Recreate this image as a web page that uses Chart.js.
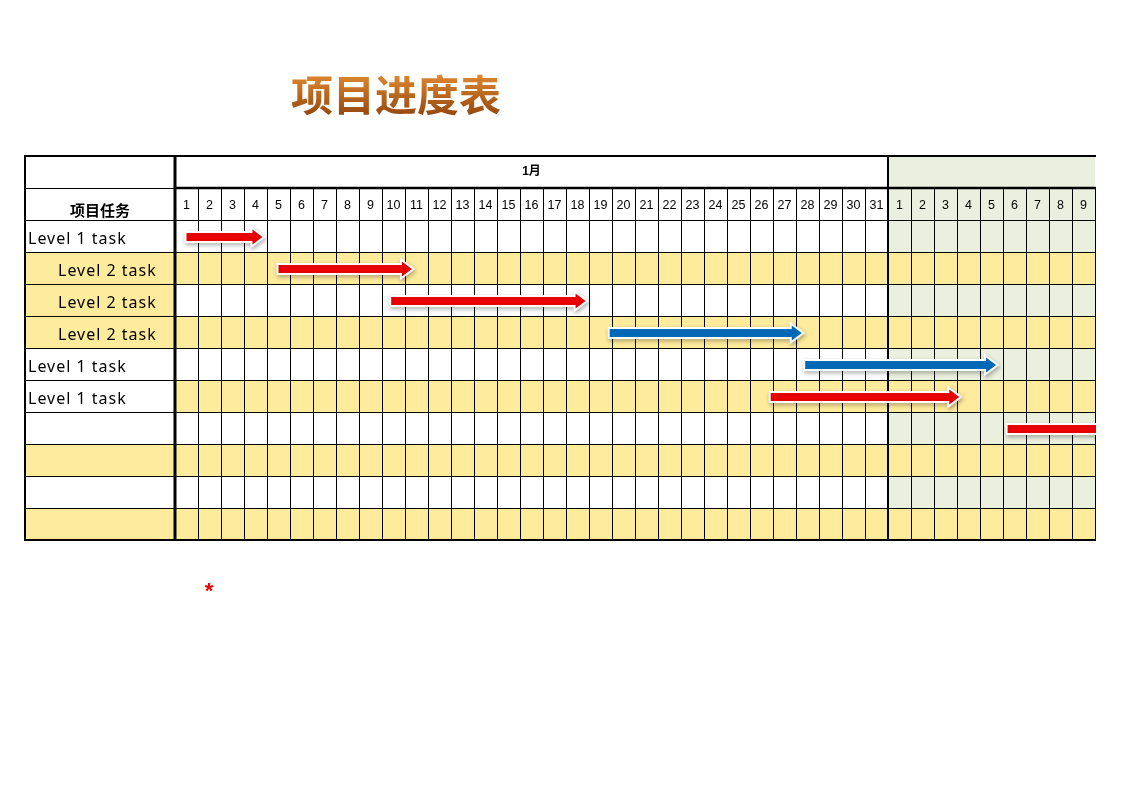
<!DOCTYPE html>
<html>
<head>
<meta charset="utf-8">
<script src="https://cdn.jsdelivr.net/npm/chart.js@4.4.0/dist/chart.umd.min.js"></script>
<style>
  html, body { margin: 0; padding: 0; background: #fff; }
</style>
</head>
<body>
<canvas id="gantt" width="1122" height="793"></canvas>
<script>
const sheetTitle = "项目进度表";
const taskHeader = "项目任务";
const monthLabels = ["1月", ""];
const monthDays = [31, 9];
const dayLabels = [
  "1", "2", "3", "4", "5", "6", "7", "8", "9", "10",
  "11", "12", "13", "14", "15", "16", "17", "18", "19", "20",
  "21", "22", "23", "24", "25", "26", "27", "28", "29", "30", "31",
  "1", "2", "3", "4", "5", "6", "7", "8", "9",
];
const taskLabels = [
  "Level 1 task", "Level 2 task", "Level 2 task", "Level 2 task",
  "Level 1 task", "Level 1 task", "", "", "", "",
];
const taskLevels = [1, 2, 2, 2, 1, 1, 0, 0, 0, 0];
// start / end of each arrow, in day columns from 1 Jan
const redTasks = [
  [0.5, 3.8], [4.5, 10.3], [9.4, 17.85], null, null,
  [25.9, 34.1], [36.2, 41], null, null, null,
];
const blueTasks = [
  null, null, null, [18.9, 27.25], [27.4, 35.7],
  null, null, null, null, null,
];

const YELLOW = "#FFEB9C";
const GREEN = "#EBF0DE";
const LINE = "#000";

function line(ctx, x1, y1, x2, y2, w) {
  ctx.save();
  ctx.strokeStyle = LINE;
  ctx.lineWidth = w;
  ctx.beginPath();
  ctx.moveTo(x1, y1);
  ctx.lineTo(x2, y2);
  ctx.stroke();
  ctx.restore();
}

const sheetPlugin = {
  id: "sheet",
  beforeDraw(chart) {
    const { ctx, chartArea: ca, scales } = chart;
    const x = scales.x, y = scales.y;
    const rowH = y.getPixelForValue(1) - y.getPixelForValue(0);
    const febL = x.getPixelForValue(monthDays[0]);
    const left = 25;
    ctx.save();
    ctx.fillStyle = "#fff";
    ctx.fillRect(0, 0, chart.width, chart.height);
    taskLabels.forEach((t, i) => {
      const top = y.getPixelForValue(i) - rowH / 2;
      if (i % 2 === 1) {
        ctx.fillStyle = YELLOW;
        ctx.fillRect(ca.left, top, ca.right - ca.left, rowH);
      } else {
        ctx.fillStyle = GREEN;
        ctx.fillRect(febL, top, ca.right - febL, rowH);
      }
      const lvl = taskLevels[i];
      if (lvl === 2 || (lvl === 0 && i % 2 === 1)) {
        ctx.fillStyle = YELLOW;
        ctx.fillRect(left, top, ca.left - left, rowH);
      }
    });
    ctx.fillStyle = GREEN;
    ctx.fillRect(febL, ca.top - 2 * rowH, ca.right - febL, 2 * rowH);
    ctx.restore();
  },
  beforeDatasetsDraw(chart) {
    const { ctx, chartArea: ca, scales } = chart;
    const x = scales.x, y = scales.y;
    const rowH = y.getPixelForValue(1) - y.getPixelForValue(0);
    const top = ca.top - 2 * rowH;
    const mid = ca.top - rowH;
    const left = 25;
    const febL = x.getPixelForValue(monthDays[0]);

    // day header column lines
    for (let i = 0; i <= monthDays[0] + monthDays[1]; i++) {
      const px = Math.round(x.getPixelForValue(i)) + 0.5;
      line(ctx, px, mid, px, ca.top, 1);
    }
    // label column row lines
    for (let i = 0; i <= taskLabels.length; i++) {
      const py = Math.round(ca.top + i * rowH) + 0.5;
      line(ctx, left, py, ca.left, py, 1);
    }
    line(ctx, left, mid + 0.5, ca.left, mid + 0.5, 1);
    line(ctx, ca.left, mid, ca.right + 1, mid, 2.5);
    line(ctx, left - 1, top, ca.right + 1, top, 2);
    line(ctx, left - 1, ca.bottom, ca.right + 1, ca.bottom, 2);
    line(ctx, left, top, left, ca.bottom, 2);
    line(ctx, ca.left, top, ca.left, ca.bottom + 1, 3);
    line(ctx, febL, top, febL, ca.bottom, 2);

    ctx.save();
    ctx.fillStyle = "#000";
    ctx.textAlign = "center";
    ctx.textBaseline = "middle";
    ctx.font = "bold 12px 'Liberation Sans', 'Noto Sans CJK SC'";
    ctx.fillText(monthLabels[0], (ca.left + febL) / 2, top + rowH / 2);
    ctx.font = "bold 15px 'Noto Sans CJK SC'";
    ctx.fillText(taskHeader, (left + ca.left) / 2, ca.top - 10);

    ctx.textAlign = "left";
    ctx.font = "16px 'Noto Sans'";
    ctx.letterSpacing = "1px";
    taskLabels.forEach((t, i) => {
      const indent = taskLevels[i] === 2 ? 33 : 3;
      ctx.fillText(t, left + indent, y.getPixelForValue(i) + 3);
    });
    ctx.letterSpacing = "0px";

    // title
    const g = ctx.createLinearGradient(0, 76, 0, 114);
    g.addColorStop(0, "#DC8530");
    g.addColorStop(1, "#984A0E");
    ctx.fillStyle = g;
    ctx.textAlign = "center";
    ctx.font = "bold 42px 'Noto Sans CJK SC'";
    ctx.fillText(sheetTitle, 396, 95);

    ctx.fillStyle = "#F00000";
    ctx.font = "bold 22px 'Liberation Sans'";
    ctx.fillText("*", 209, 592);
    ctx.restore();
  },
  beforeDatasetDraw() {
    return false;
  },
  afterDatasetsDraw(chart) {
    const { ctx, chartArea: ca } = chart;
    ctx.save();
    ctx.beginPath();
    ctx.rect(ca.left, ca.top, ca.right - ca.left + 1, ca.bottom - ca.top);
    ctx.clip();
    chart.data.datasets.forEach((ds, di) => {
      const meta = chart.getDatasetMeta(di);
      meta.data.forEach((el, i) => {
        if (!ds.data[i]) return;
        const x0 = Math.min(el.base, el.x), x1 = Math.max(el.base, el.x);
        const yc = el.y + 1;
        const sh = 4, hh = 7.5, hl = 10;
        const path = () => {
          ctx.beginPath();
          ctx.moveTo(x0, yc - sh);
          ctx.lineTo(x1 - hl, yc - sh);
          ctx.lineTo(x1 - hl, yc - hh);
          ctx.lineTo(x1, yc);
          ctx.lineTo(x1 - hl, yc + hh);
          ctx.lineTo(x1 - hl, yc + sh);
          ctx.lineTo(x0, yc + sh);
          ctx.closePath();
        };
        ctx.save();
        ctx.shadowColor = "rgba(0,0,0,0.35)";
        ctx.shadowBlur = 4;
        ctx.shadowOffsetX = 1;
        ctx.shadowOffsetY = 2;
        path();
        ctx.lineJoin = "miter";
        ctx.strokeStyle = "#fff";
        ctx.lineWidth = 4;
        ctx.stroke();
        ctx.restore();
        path();
        ctx.fillStyle = ds.backgroundColor;
        ctx.fill();
      });
    });
    ctx.restore();
  },
};

new Chart(document.getElementById("gantt").getContext("2d"), {
  type: "bar",
  data: {
    labels: taskLabels,
    datasets: [
      { label: "red", data: redTasks, backgroundColor: "#E80000", grouped: false },
      { label: "blue", data: blueTasks, backgroundColor: "#0068B5", grouped: false },
    ],
  },
  options: {
    indexAxis: "y",
    responsive: false,
    animation: false,
    devicePixelRatio: 1,
    layout: { padding: { left: 25, top: 188, right: 27, bottom: 253 } },
    plugins: { legend: { display: false }, tooltip: { enabled: false } },
    scales: {
      x: { type: "linear", min: 0, max: 40, display: false },
      days: {
        type: "category",
        labels: dayLabels,
        position: "top",
        offset: true,
        grid: { offset: true, color: LINE, lineWidth: 1, drawTicks: false },
        border: { display: false },
        ticks: {
          autoSkip: false,
          maxRotation: 0,
          padding: 7,
          color: "#000",
          font: { family: "'Liberation Sans'", size: 12.5 },
        },
        afterFit: (s) => { s.height = 32; },
      },
      y: {
        offset: true,
        grid: { offset: true, color: LINE, lineWidth: 1, drawTicks: false },
        border: { display: false },
        ticks: { display: false },
        afterFit: (s) => { s.width = 150; },
      },
    },
  },
  plugins: [sheetPlugin],
});
</script>
</body>
</html>
